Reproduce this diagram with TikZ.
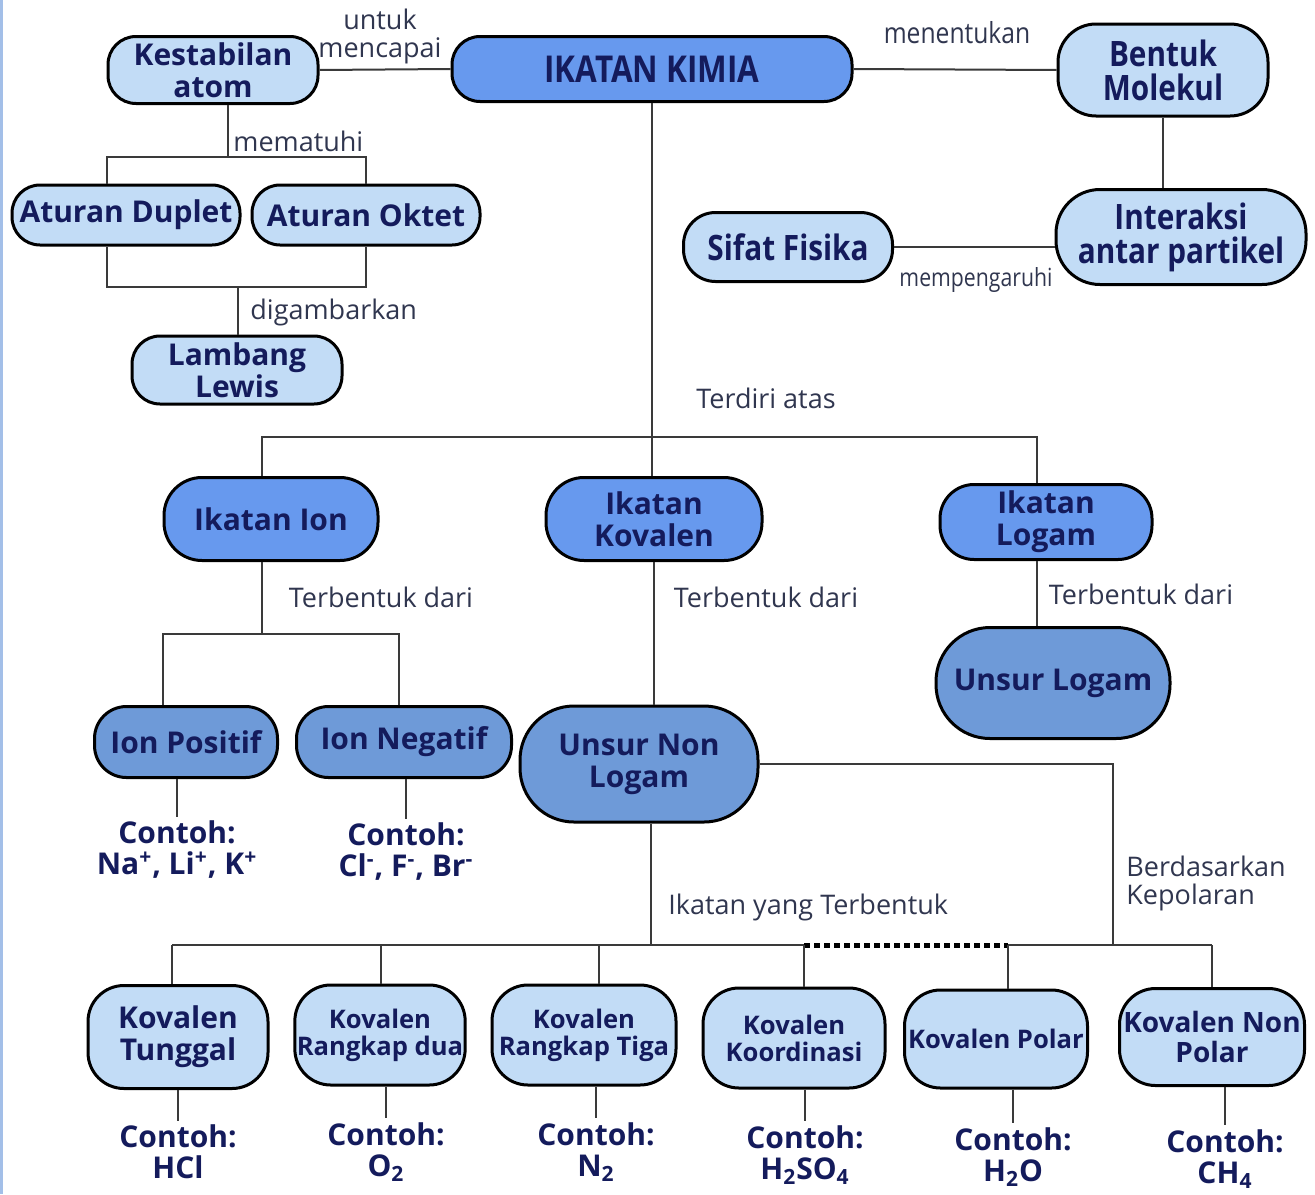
\documentclass[tikz,border=0pt]{standalone}
\usepackage{fontspec}
\setmainfont{Open Sans}
\newfontfamily\narrowfont[FakeStretch=0.85]{Open Sans}
\usetikzlibrary{positioning,calc}
\definecolor{navy}{HTML}{141B5C}
\definecolor{inklbl}{HTML}{30364F}
\definecolor{wire}{HTML}{3A3A3A}
\definecolor{pale}{HTML}{C2DCF6}
\definecolor{bright}{HTML}{6799EE}
\definecolor{steel}{HTML}{6E9AD8}
\definecolor{edgeblue}{HTML}{A3BFE8}
\newcommand{\bigbold}{\bfseries\fontsize{15}{16}\selectfont}
\newcommand{\smallbold}{\bfseries\fontsize{12.8}{13.5}\selectfont}
\newcommand{\lbltext}{\fontsize{13.5}{14}\selectfont}
\tikzset{
  pill/.style={draw=black, line width=1.5pt, rounded corners=14pt, align=center,
               text=navy, inner sep=1pt, font=\bigbold},
  lite/.style={pill, fill=pale},
  main/.style={pill, fill=bright},
  deep/.style={pill, fill=steel},
  narrow/.style={font=\narrowfont\bfseries\fontsize{17.5}{17}\selectfont},
  sz/.style 2 args={minimum width=#1, minimum height=#2},
  lbl/.style={font=\lbltext, text=inklbl, inner sep=0pt, align=center},
  ex/.style={font=\bfseries\fontsize{15}{15.5}\selectfont, text=navy, align=center, inner sep=2pt},
  link/.style={draw=wire, line width=1pt},
  dotline/.style={draw=black, line width=2.5pt, dash pattern=on 3pt off 2pt},
}

\begin{document}
\begin{tikzpicture}[x=0.5pt,y=-0.5pt]
\useasboundingbox (0,0) rectangle (1315,1194);
\fill[edgeblue] (0,0) rectangle (2.5,1194);
% top row
\node[lite, sz={105pt}{33.5pt}] (kes) at (213,70) {Kestabilan\\atom};
\node[main, sz={200pt}{32.5pt}, font=\narrowfont\bfseries\fontsize{18.5}{18}\selectfont] (kimia) at (652,69) {IKATAN KIMIA};
\node[lite, narrow, sz={105pt}{46pt}, rounded corners=19pt] (bentuk) at (1163,70) {Bentuk\\Molekul};
\node[lbl] (untuk) at (380,36) {untuk\\mencapai};
\node[lbl, font=\narrowfont\fontsize{14.5}{15}\selectfont] (tentu) at (957,33) {menentukan};
% rules
\node[lite, sz={114pt}{30pt}] (dup) at (126,215) {Aturan Duplet};
\node[lite, sz={114pt}{30pt}] (okt) at (366,215) {Aturan Oktet};
\node[lite, sz={105pt}{34pt}] (lewis) at (237,370) {Lambang\\Lewis};
\node[lbl, anchor=west] (patuh) at (233,141) {mematuhi};
\node[lbl, anchor=west] (gambar) at (250,312) {digambarkan};
% particles
\node[lite, narrow, sz={104.5pt}{34.5pt}, rounded corners=16pt] (sifat) at (788,247) {Sifat Fisika};
\node[lite, narrow, sz={125pt}{47.5pt}, rounded corners=22pt] (inter) at (1181,237) {Interaksi\\antar partikel};
\node[lbl, font=\narrowfont\fontsize{12.5}{13}\selectfont] (aruh) at (976,280) {mempengaruhi};
% bond types
\node[main, sz={107pt}{41.5pt}, rounded corners=19pt] (ion) at (271,519) {Ikatan Ion};
\node[main, sz={108pt}{41.5pt}, rounded corners=19pt] (kov) at (654,519) {Ikatan\\Kovalen};
\node[main, sz={106pt}{37.5pt}, rounded corners=17pt] (log) at (1046,522) {Ikatan\\Logam};
\node[lbl] (diri) at (766,398) {Terdiri atas};
\node[lbl] (tbion) at (381,597) {Terbentuk dari};
\node[lbl] (tbkov) at (766,597) {Terbentuk dari};
\node[lbl] (tblog) at (1141,594) {Terbentuk dari};
% elements and ions
\node[deep, sz={91.5pt}{35.5pt}, rounded corners=16pt] (pos) at (186,742) {Ion Positif};
\node[deep, sz={107.5pt}{35.5pt}, rounded corners=16pt] (neg) at (404,742) {Ion Negatif};
\node[deep, sz={119pt}{58pt}, rounded corners=27pt] (nonlog) at (639,764) {Unsur Non\\Logam};
\node[deep, sz={117pt}{55.5pt}, rounded corners=27pt] (unlog) at (1053,683) {Unsur Logam};
\node[ex] (exna) at (177,850) {Contoh:\\Na\textsuperscript{+}, Li\textsuperscript{+}, K\textsuperscript{+}};
\node[ex] (excl) at (406,852) {Contoh:\\Cl\textsuperscript{-}, F\textsuperscript{-}, Br\textsuperscript{-}};
\node[lbl, anchor=west] (yang) at (668,907) {Ikatan yang Terbentuk};
\node[lbl, anchor=west, align=left] (polar) at (1126,883) {Berdasarkan\\Kepolaran};
% covalent kinds
\node[lite, sz={90pt}{51.5pt}, rounded corners=18pt] (tunggal) at (178,1037) {Kovalen\\Tunggal};
\node[lite, sz={84pt}{50pt}, rounded corners=18pt, font=\smallbold] (dua) at (380,1035) {Kovalen\\Rangkap dua};
\node[lite, sz={92pt}{50pt}, rounded corners=18pt, font=\smallbold] (tiga) at (584,1035) {Kovalen\\Rangkap Tiga};
\node[lite, sz={91pt}{50pt}, rounded corners=18pt, font=\smallbold] (koord) at (794,1038) {Kovalen\\Koordinasi};
\node[lite, sz={91.5pt}{49pt}, rounded corners=18pt, font=\smallbold] (kpol) at (996,1039) {Kovalen Polar};
\node[lite, sz={92.5pt}{48.5pt}, rounded corners=18pt, font=\bfseries\fontsize{14}{15}\selectfont] (knon) at (1212,1037) {Kovalen Non\\Polar};
\node[ex] (exhcl) at (178,1152) {Contoh:\\HCl};
\node[ex] (exo) at (386,1152) {Contoh:\\O\textsubscript{2}};
\node[ex] (exn) at (596,1152) {Contoh:\\N\textsubscript{2}};
\node[ex] (exso) at (805,1155) {Contoh:\\H\textsubscript{2}SO\textsubscript{4}};
\node[ex] (exho) at (1013,1157) {Contoh:\\H\textsubscript{2}O};
\node[ex] (exch) at (1225,1159) {Contoh:\\CH\textsubscript{4}};
% junctions
\coordinate (jpatuh) at (228,157);
\coordinate (jgambar) at (238,287);
\coordinate (jdup) at (107,200);
\coordinate (jdiri) at (652,437);
\coordinate (jion) at (262,560);
\coordinate (jlog) at (1037,560);
\coordinate (jtb) at (262,634);
\coordinate (jpos) at (163,700);
\coordinate (jneg) at (399,700);
\coordinate (jyang) at (651,945);
\coordinate (jpol) at (1113,945);
\foreach \c/\x in {d1/172,d2/381,d3/599,d4/804,d5/1008,d6/1212}{ \coordinate (\c) at (\x,945); }
% connectors
\draw[link] (kes.east) -- (kimia.west);
\draw[link] (kimia.east) -- (bentuk.west);
\draw[link] (bentuk.south) -- (bentuk.south |- inter.north);
\draw[link] (sifat.east) -- (sifat.east -| inter.west);
\draw[link] (jpatuh |- kes.south) -- (jpatuh);
\draw[link] (jdup |- dup.north) |- (jpatuh) -| (okt.north);
\draw[link] (jdup |- dup.south) |- (jgambar) -| (okt.south);
\draw[link] (jgambar) -- (jgambar |- lewis.north);
\draw[link] (kimia.south) -- (jdiri);
\draw[link] (jion |- ion.north) |- (jdiri) -| (jlog |- log.north);
\draw[link] (jdiri) -- (jdiri |- kov.north);
\draw[link] (jion |- ion.south) -- (jtb);
\draw[link] (jpos |- pos.north) |- (jtb) -| (jneg |- neg.north);
\draw[link] (kov.south) -- (kov.south |- nonlog.north);
\draw[link] (jlog |- log.south) -- (jlog |- unlog.north);
\draw[link] (nonlog.east) -| (jpol);
\draw[link] (jyang |- nonlog.south) -- (jyang);
\draw[link] (d1) -- (d4);
\draw[dotline] (d4) -- (d5);
\draw[link] (d5) -- (d6);
\foreach \c/\n in {d1/tunggal,d2/dua,d3/tiga,d4/koord,d5/kpol,d6/knon}{ \draw[link] (\c) -- (\c |- \n.north); }
\foreach \b/\e in {pos/exna,neg/excl,tunggal/exhcl,dua/exo,tiga/exn,koord/exso,kpol/exho,knon/exch}{ \draw[link] (\e.north |- \b.south) -- (\e.north); }
\end{tikzpicture}
\end{document}
